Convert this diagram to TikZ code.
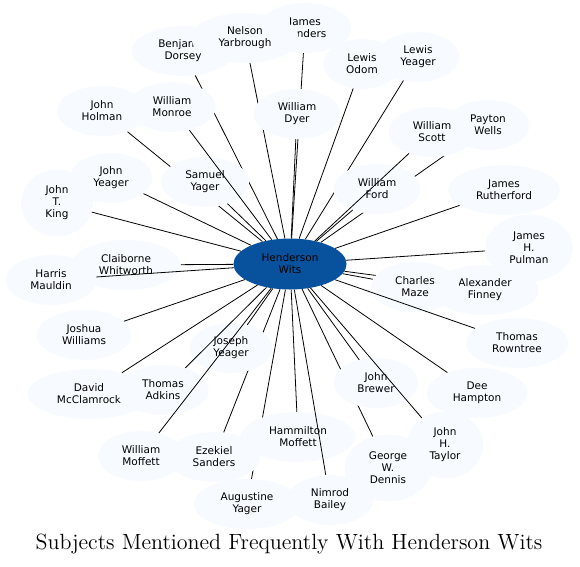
\documentclass[tikz,border=0pt]{standalone}
\usepackage{fontspec}
\newfontfamily\nodefont{DejaVu Sans}
\newfontfamily\titlefont{lmroman12-regular.otf}
\usetikzlibrary{shapes.geometric}
\definecolor{paleblue}{HTML}{F7FBFF}
\definecolor{hubblue}{HTML}{08519C}

\begin{document}
\begin{tikzpicture}[x=1pt,y=-1pt,
  pers/.style={ellipse,fill=paleblue,align=center,inner xsep=11.5pt,inner ysep=0pt,
    minimum width=72pt,minimum height=50pt,font={\nodefont\fontsize{10.5}{12}\selectfont}},
  tall/.style={pers,minimum height=67pt},
  hubnode/.style={pers,fill=hubblue,minimum height=51pt},
  tie/.style={line width=0.8pt}]

  \useasboundingbox (0,0) rectangle (580,566);

  \node[hubnode] (hub) at (290,264) {Henderson\\Wits};

  % nodes and their ties, in drawing order
  \node[pers] (dorsey) at (183,51) {Benjamin\\Dorsey};
  \draw[tie] (hub) -- (dorsey);
  \node[pers] (holman) at (102,111) {John\\Holman};
  \draw[tie] (hub) -- (holman);
  \node[pers] (samuel) at (205,182) {Samuel\\Yager};
  \draw[tie] (hub) -- (samuel);
  \node[pers] (monroe) at (172,107) {William\\Monroe};
  \draw[tie] (hub) -- (monroe);
  \node[pers] (jsanders) at (305,28) {James\\Sanders};
  \draw[tie] (hub) -- (jsanders);
  \node[pers] (nelson) at (245,38) {Nelson\\Yarbrough};
  \draw[tie] (hub) -- (nelson);
  \node[pers] (dyer) at (297,114) {William\\Dyer};
  \draw[tie] (hub) -- (dyer);
  \node[pers] (odom) at (362,64) {Lewis\\Odom};
  \draw[tie] (hub) -- (odom);
  \node[pers] (lyeager) at (418,57) {Lewis\\Yeager};
  \draw[tie] (hub) -- (lyeager);
  \node[pers] (wells) at (488,125) {Payton\\Wells};
  \draw[tie] (hub) -- (wells);
  \node[pers] (ford) at (377,189) {William\\Ford};
  \draw[tie] (hub) -- (ford);
  \node[pers] (scott) at (432,132) {William\\Scott};
  \draw[tie] (hub) -- (scott);
  \node[pers] (rutherford) at (504,190) {James\\Rutherford};
  \draw[tie] (hub) -- (rutherford);
  \node[tall] (pulman) at (529,248) {James\\H.\\Pulman};
  \draw[tie] (hub) -- (pulman);
  \node[pers] (finney) at (485,290) {Alexander\\Finney};
  \draw[tie] (hub) -- (finney);
  \node[pers] (maze) at (415,287) {Charles\\Maze};
  \draw[tie] (hub) -- (maze);
  \node[pers] (rowntree) at (517,343) {Thomas\\Rowntree};
  \draw[tie] (hub) -- (rowntree);
  \node[pers] (hampton) at (477,393) {Dee\\Hampton};
  \draw[tie] (hub) -- (hampton);
  \node[pers] (augustine) at (247,504) {Augustine\\Yager};
  \draw[tie] (hub) -- (augustine);
  \node[pers] (hammilton) at (298,437) {Hammilton\\Moffett};
  \draw[tie] (hub) -- (hammilton);
  \node[pers] (nimrod) at (330,500) {Nimrod\\Bailey};
  \draw[tie] (hub) -- (nimrod);
  \node[tall] (dennis) at (388,468) {George\\W.\\Dennis};
  \draw[tie] (hub) -- (dennis);
  \node[pers] (brewer) at (376,383) {John\\Brewer};
  \draw[tie] (hub) -- (brewer);
  \node[tall] (taylor) at (445,445) {John\\H.\\Taylor};
  \draw[tie] (hub) -- (taylor);
  \node[pers] (ezekiel) at (214,457) {Ezekiel\\Sanders};
  \draw[tie] (hub) -- (ezekiel);
  \node[pers] (joseph) at (231,348) {Joseph\\Yeager};
  \draw[tie] (hub) -- (joseph);
  \node[pers] (mcclamrock) at (89,394) {David\\McClamrock};
  \draw[tie] (hub) -- (mcclamrock);
  \node[pers] (adkins) at (163,390) {Thomas\\Adkins};
  \draw[tie] (hub) -- (adkins);
  \node[pers] (wmoffett) at (141,456) {William\\Moffett};
  \draw[tie] (hub) -- (wmoffett);
  \node[pers] (joshua) at (84,335) {Joshua\\Williams};
  \draw[tie] (hub) -- (joshua);
  \node[pers] (claiborne) at (126,265) {Claiborne\\Whitworth};
  \draw[tie] (hub) -- (claiborne);
  \node[pers] (harris) at (51,280) {Harris\\Mauldin};
  \draw[tie] (hub) -- (harris);
  \node[tall] (king) at (57,203) {John\\T.\\King};
  \draw[tie] (hub) -- (king);
  \node[pers] (jyeager) at (111,178) {John\\Yeager};
  \draw[tie] (hub) -- (jyeager);

  \node (title) at (289,544) {\titlefont\fontsize{22}{26}\selectfont Subjects Mentioned Frequently With Henderson Wits};

\end{tikzpicture}
\end{document}
